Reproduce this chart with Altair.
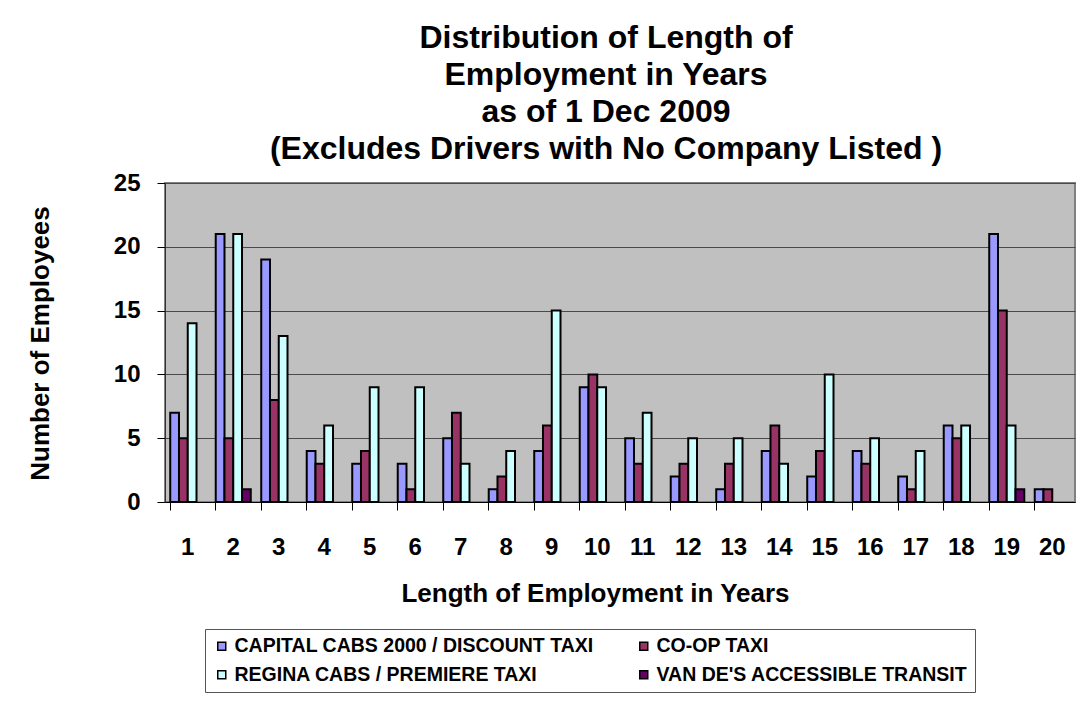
import altair as alt
import pandas as pd

# Employees per company, by completed years of employment (1..20)
years = list(range(1, 21))
companies = [
    "CAPITAL CABS 2000 / DISCOUNT TAXI",
    "CO-OP TAXI",
    "REGINA CABS / PREMIERE TAXI",
    "VAN DE'S ACCESSIBLE TRANSIT",
]
capital = [7, 21, 19, 4, 3, 3, 5, 1, 4, 9, 5, 2, 1, 4, 2, 4, 2, 6, 21, 1]
coop = [5, 5, 8, 3, 4, 1, 7, 2, 6, 10, 3, 3, 3, 6, 4, 3, 1, 5, 15, 1]
regina = [14, 21, 13, 6, 9, 9, 3, 4, 15, 9, 7, 5, 5, 3, 10, 5, 4, 6, 6, 0]
vande = [0, 1, 0, 0, 0, 0, 0, 0, 0, 0, 0, 0, 0, 0, 0, 0, 0, 0, 1, 0]
colors = ["#9999FF", "#993366", "#CCFFFF", "#660066"]
y_ticks = [0, 5, 10, 15, 20, 25]

title_lines = [
    "Distribution of Length of",
    "Employment in Years",
    "as of 1 Dec 2009",
    "(Excludes Drivers with No Company Listed )",
]

series = [capital, coop, regina, vande]
rows = []
for name, values in zip(companies, series):
    for yr, v in zip(years, values):
        rows.append({"year": yr, "company": name, "count": v})
df = pd.DataFrame(rows)

FONT = "Liberation Sans"

bars = (
    alt.Chart(df)
    .transform_filter("datum.count > 0")
    .mark_bar(stroke="black", strokeWidth=2, opacity=1)
    .encode(
        x=alt.X(
            "year:O",
            sort=years,
            scale=alt.Scale(paddingInner=0.23, paddingOuter=0.115),
            axis=alt.Axis(
                title="Length of Employment in Years",
                titleFont=FONT,
                titleFontSize=26,
                titleFontWeight="bold",
                titleColor="black",
                titleX=430,
                titleY=91,
                titleAlign="center",
                titleBaseline="middle",
                labelAngle=0,
                labelFont=FONT,
                labelFontSize=24,
                labelFontWeight="bold",
                labelColor="black",
                labelBaseline="middle",
                labelPadding=37,
                bandPosition=0,
                tickSize=8,
                tickColor="black",
                domainColor="black",
                domainWidth=1,
                grid=False,
            ),
        ),
        xOffset=alt.XOffset(
            "company:N",
            sort=companies,
            scale=alt.Scale(domain=companies, paddingInner=0, paddingOuter=0),
        ),
        y=alt.Y(
            "count:Q",
            scale=alt.Scale(domain=[0, 25], nice=False),
            axis=alt.Axis(
                values=y_ticks,
                title="Number of Employees",
                titleFont=FONT,
                titleFontSize=26,
                titleFontWeight="bold",
                titleColor="black",
                titleAngle=-90,
                titleX=-125,
                titleY=160,
                titleAlign="center",
                titleBaseline="middle",
                labelFont=FONT,
                labelFontSize=24,
                labelFontWeight="bold",
                labelColor="black",
                labelPadding=17,
                tickSize=8,
                tickColor="black",
                domainColor="#333333",
                grid=True,
                gridColor="#4a4a4a",
                gridWidth=1,
            ),
        ),
        color=alt.Color(
            "company:N",
            sort=companies,
            scale=alt.Scale(domain=companies, range=colors),
            legend=alt.Legend(
                title=None,
                orient="none",
                direction="horizontal",
                legendX=40,
                legendY=446,
                columns=2,
                columnPadding=40,
                rowPadding=8,
                padding=7,
                strokeColor="#555555",
                fillColor="white",
                symbolType="square",
                symbolSize=64,
                symbolStrokeColor="black",
                symbolStrokeWidth=1.5,
                symbolOpacity=1,
                labelFont=FONT,
                labelFontSize=19.5,
                labelFontWeight="bold",
                labelColor="black",
                labelLimit=600,
                labelOffset=3,
            ),
        ),
    )
)

chart = (
    bars.properties(
        width=910,
        height=319,
        autosize=alt.AutoSizeParams(type="none"),
        padding={"left": 165, "top": 183, "right": 7, "bottom": 202},
        title=alt.TitleParams(
            text=title_lines,
            font=FONT,
            fontSize=32,
            fontWeight="bold",
            color="black",
            lineHeight=37,
            anchor="middle",
            dx=-14,
            offset=5,
        ),
    )
    .configure(background="white", font=FONT)
    .configure_view(fill="#C0C0C0", stroke="#808080", strokeWidth=2)
)

chart.save("out.html", embed_options={"renderer": "svg", "actions": False})
